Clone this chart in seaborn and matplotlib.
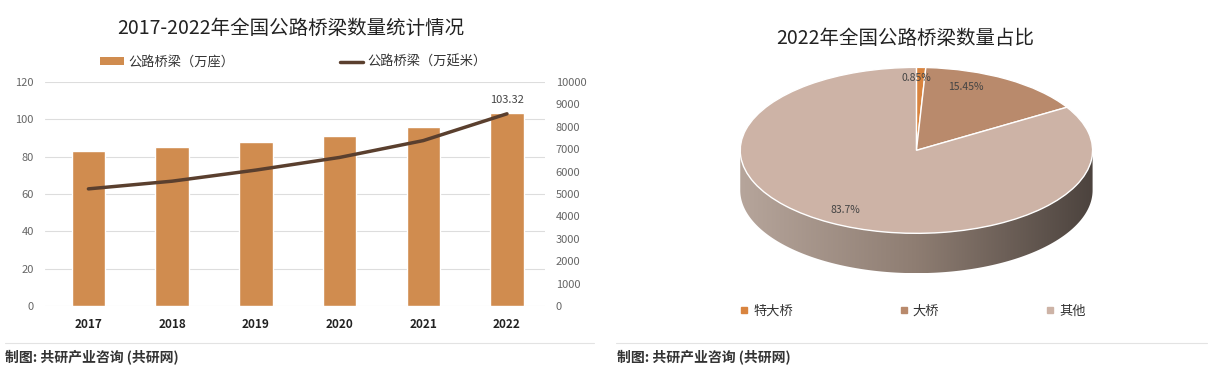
import numpy as np
import pandas as pd
import matplotlib
matplotlib.use("Agg")
import matplotlib.pyplot as plt
import seaborn as sns
from matplotlib.patches import Patch, Polygon
from matplotlib.lines import Line2D
from matplotlib.colors import LinearSegmentedColormap

years = ["2017", "2018", "2019", "2020", "2021", "2022"]
bridges_count = [83.25, 85.15, 87.83, 91.28, 96.11, 103.32]        # 万座
bridges_length = [5225.62, 5568.59, 6063.46, 6628.55, 7380.21, 8576.49]  # 万延米

pie_labels = ["特大桥", "大桥", "其他"]
pie_values = [0.85, 15.45, 83.7]
pie_colors = ["#D9843F", "#B98A6C", "#CDB3A6"]

sns.set_theme(style="white")
plt.rcParams["font.family"] = ["Noto Sans CJK SC", "DejaVu Sans"]

fig = plt.figure(figsize=(12.13, 3.74), dpi=100)

# ---- 左图：柱状 + 折线
df = pd.DataFrame({"year": years, "count": bridges_count, "length": bridges_length})
ax = fig.add_axes([0.037, 0.182, 0.412, 0.599])
sns.barplot(data=df, x="year", y="count", color="#D08C4F", width=0.4,
            saturation=1, ax=ax)
ax.set_ylim(0, 120)
ax.set_yticks(range(0, 121, 20))
ax.set_xlim(-0.52, 5.45)
ax.grid(axis="y", color="#DDDDDD", linewidth=0.8)
ax.set_axisbelow(True)
sns.despine(ax=ax, left=True, bottom=True)
ax.set_xlabel("")
ax.set_ylabel("")
ax.tick_params(axis="y", labelsize=8, colors="#666666", length=0, pad=8)
ax.tick_params(axis="x", labelsize=8.5, colors="#222222", length=0, pad=9)
for lbl in ax.get_xticklabels():
    lbl.set_fontweight("bold")
ax.text(5, bridges_count[-1] + 4.5, f"{bridges_count[-1]:.2f}", ha="center",
        va="bottom", fontsize=8, color="#444444")

ax2 = ax.twinx()
sns.lineplot(x=np.arange(len(years)), y=bridges_length, color="#5A3F2E",
             linewidth=2.5, ax=ax2)
ax2.set_ylim(0, 10000)
ax2.set_yticks(range(0, 10001, 1000))
sns.despine(ax=ax2, left=True, bottom=True, right=True)
ax2.tick_params(axis="y", labelsize=8, colors="#666666", length=0, pad=8)
ax2.grid(False)

fig.text(0.24, 0.925, "2017-2022年全国公路桥梁数量统计情况", ha="center",
         va="center", fontsize=14, color="#222222")
handles = [Patch(facecolor="#D08C4F", edgecolor="none"),
           Line2D([0], [0], color="#5A3F2E", linewidth=2.5)]
fig.legend(handles, ["公路桥梁（万座）", "公路桥梁（万延米）"], ncol=2,
           loc="center", bbox_to_anchor=(0.242, 0.834), frameon=False,
           fontsize=9.5, handlelength=1.8, handleheight=0.45,
           columnspacing=8.0, handletextpad=0.3, labelcolor="#333333")

# ---- 右图：伪3D饼图
pax = fig.add_axes([0.603, 0.243, 0.305, 0.599])
depth = 0.48
wedges, texts, autotexts = pax.pie(
    pie_values, colors=pie_colors, startangle=90, counterclock=False,
    autopct=lambda p: f"{p:.4g}%", pctdistance=0.82,
    wedgeprops=dict(edgecolor="white", linewidth=1),
    textprops=dict(fontsize=7.5, color="#444444"))
autotexts[0].set_position((0.0, 0.87))
autotexts[1].set_position((0.28, 0.76))
pax.set_aspect("auto")
pax.axis("off")

t = np.linspace(np.pi, 2 * np.pi, 200)
side = np.concatenate([np.column_stack([np.cos(t), np.sin(t)]),
                       np.column_stack([np.cos(t[::-1]), np.sin(t[::-1]) - depth])])
poly = Polygon(side, closed=True, facecolor="none", edgecolor="none")
pax.add_patch(poly)
side_cmap = LinearSegmentedColormap.from_list(
    "side", ["#B6A59B", "#8E7D72", "#4C433E"])
grad = pax.imshow(np.linspace(0, 1, 256).reshape(1, -1), cmap=side_cmap,
                  extent=(-1, 1, -1 - depth, 0), aspect="auto", zorder=0)
grad.set_clip_path(poly)
pax.set_xlim(-1.05, 1.05)
pax.set_ylim(-1.0 - depth - 0.12, 1.1)

fig.text(0.746, 0.898, "2022年全国公路桥梁数量占比", ha="center",
         va="center", fontsize=14, color="#222222")
pie_handles = [Line2D([0], [0], marker="s", linestyle="none", markersize=4,
                      markerfacecolor=c, markeredgecolor=c) for c in pie_colors]
fig.legend(pie_handles, pie_labels, ncol=3, loc="center",
           bbox_to_anchor=(0.752, 0.168), frameon=False, fontsize=9.5,
           handlelength=0.8, columnspacing=8.0, handletextpad=0.3,
           labelcolor="#333333")

# ---- 底部分隔线和来源
for x0, x1 in [(0.004, 0.49), (0.508, 0.995)]:
    fig.add_artist(Line2D([x0, x1], [0.083, 0.083], color="#E3E3E3",
                          linewidth=0.8, transform=fig.transFigure))
for x0 in [0.004, 0.509]:
    fig.text(x0, 0.045, "制图: 共研产业咨询 (共研网)", fontsize=10,
             color="#333333", va="center", fontweight="bold")

fig.savefig("out.png", dpi=100, facecolor="white")
